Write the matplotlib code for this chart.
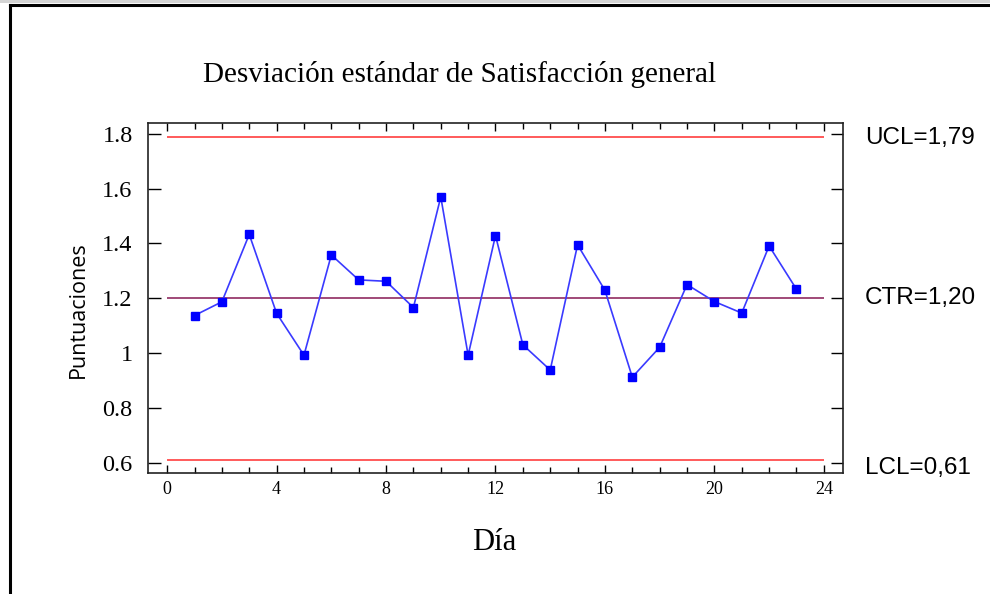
import matplotlib
matplotlib.use("Agg")
import matplotlib.pyplot as plt
from matplotlib.lines import Line2D
from matplotlib.patches import Rectangle
from matplotlib.ticker import MultipleLocator
import numpy as np

# data
dias = np.arange(1, 24)
desv = [1.137, 1.187, 1.433, 1.145, 0.992, 1.358, 1.267, 1.262, 1.166, 1.570,
        0.992, 1.429, 1.030, 0.938, 1.395, 1.229, 0.912, 1.021, 1.250, 1.188,
        1.146, 1.391, 1.233]

limit_names = ["UCL", "CTR", "LCL"]
limit_values = [1.79, 1.20, 0.61]
limit_colors = ["#ff5a5a", "#a04a78", "#ff5a5a"]
label_offsets = [-1, 0, -6]   # points, vertical nudge of the right-hand labels

serif = "Liberation Serif"

fig = plt.figure(figsize=(9.9, 5.94), dpi=100)
ax = fig.add_axes([0.1495, 0.2037, 0.702, 0.5893])

# control limits
for name, val, col, dy in zip(limit_names, limit_values, limit_colors, label_offsets):
    ax.hlines(val, 0, 24, color=col, lw=1.4, zorder=2)
    ax.annotate(f"{name}={val:.2f}".replace(".", ","), xy=(1, val),
                xycoords=("axes fraction", "data"), xytext=(16, dy),
                textcoords="offset points", va="center", ha="left",
                fontsize=17.5, family="Liberation Sans", annotation_clip=False)

ax.plot(dias, desv, color="#3a3aff", lw=1.2, marker="s", ms=6,
        mfc="#0000ff", mec="#0000ff", zorder=3)

ax.set_xlim(-0.7, 24.7)
ax.set_ylim(0.562, 1.84)
ax.xaxis.set_major_locator(MultipleLocator(4))
ax.xaxis.set_minor_locator(MultipleLocator(1))
ax.set_yticks([0.6, 0.8, 1.0, 1.2, 1.4, 1.6, 1.8])
ax.set_yticklabels(["0.6", "0.8", "1", "1.2", "1.4", "1.6", "1.8"])

ax.tick_params(axis="x", which="major", direction="in", top=True, length=6,
               width=1, pad=6, labelsize=13)
ax.tick_params(axis="x", which="minor", direction="in", top=True, length=4, width=1)
ax.tick_params(axis="y", direction="in", right=True, length=9, width=1,
               pad=11, labelsize=17.5)
for lab in ax.get_xticklabels() + ax.get_yticklabels():
    lab.set_family(serif)
for sp in ax.spines.values():
    sp.set_linewidth(1.2)
    sp.set_color("#222222")

fig.text(0.4646, 0.875, "Desviación estándar de Satisfacción general",
         ha="center", va="center", fontsize=21, family=serif)
fig.text(0.499, 0.086, "Día", ha="center", va="center", fontsize=22, family=serif)
fig.text(0.079, 0.478, "Puntuaciones", ha="center", va="center",
         rotation=90, fontsize=15.5, family="Open Sans")

# outer frame like the source screenshot
fig.add_artist(Rectangle((0, 1 - 3 / 594), 1, 3 / 594, transform=fig.transFigure,
                         color="#d4d4d4", lw=0))
fig.add_artist(Line2D([9.5 / 990, 1], [1 - 5 / 594, 1 - 5 / 594],
                      transform=fig.transFigure, color="black", lw=2.2))
fig.add_artist(Line2D([9.5 / 990, 9.5 / 990], [0, 1 - 5 / 594],
                      transform=fig.transFigure, color="black", lw=2.2))

fig.savefig("out.png", dpi=100)
